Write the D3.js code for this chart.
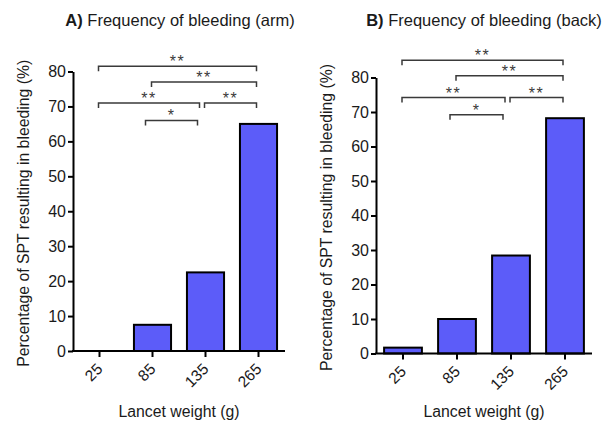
<!DOCTYPE html>
<html>
<head>
<meta charset="utf-8">
<script src="https://cdn.jsdelivr.net/npm/d3@7"></script>
<style>
  html, body { margin: 0; padding: 0; background: #fff; }
  svg { display: block; font-family: "Liberation Sans", Arial, Helvetica, sans-serif; }
</style>
</head>
<body>
<svg id="chart" width="608" height="423"></svg>
<script>
// Lancet weights (g) on the x axis
const lancetWeights = ["25", "85", "135", "265"];

// Percentage of skin prick tests that bled, per site
const armBleeding = [0, 7.5, 22.5, 65];
const backBleeding = [1.7, 10, 28.4, 68.2];

const yTicks = [0, 10, 20, 30, 40, 50, 60, 70, 80];

// Significance brackets: [from category, to category, height in %, label]
const armBrackets = [
  ["25", "265", 81.5, "**"],
  ["85", "265", 77, "**"],
  ["25", "135", 71, "**"],
  ["135", "265", 71, "**"],
  ["85", "135", 66, "*"]
];
const backBrackets = [
  ["25", "265", 85, "**"],
  ["85", "265", 80.5, "**"],
  ["25", "135", 74.2, "**"],
  ["135", "265", 74.2, "**"],
  ["85", "135", 69.2, "*"]
];

const svg = d3.select("#chart");
const BAR_FILL = "#5c5cf9";
const INK = "#1a1a1a";
const BRACKET_INK = "#3a3a3a";

function drawPanel(opts) {
  const { letter, title, values, brackets, left, right, top, bottom, titleX, yTitleX } = opts;
  const g = svg.append("g");

  const x = d3.scaleBand().domain(lancetWeights).range([left, right]).paddingInner(0.3).paddingOuter(0.15);
  const y = d3.scaleLinear().domain([0, 80]).range([bottom, top]);
  const cx = k => x(k) + x.bandwidth() / 2;

  // Bars
  g.selectAll("rect.bar")
    .data(values.map((v, i) => ({ k: lancetWeights[i], v })))
    .join("rect")
    .attr("class", "bar")
    .attr("x", d => x(d.k))
    .attr("width", x.bandwidth())
    .attr("y", d => y(d.v))
    .attr("height", d => y(0) - y(d.v))
    .attr("fill", BAR_FILL)
    .attr("stroke", d => d.v > 0 ? "#000" : "none")
    .attr("stroke-width", 2);

  // Y axis
  const yAxis = g.append("g")
    .attr("transform", `translate(${left},0)`)
    .call(d3.axisLeft(y).tickValues(yTicks).tickSize(5).tickSizeOuter(0).tickPadding(2));
  yAxis.select(".domain").attr("stroke", "#000").attr("stroke-width", 2);
  yAxis.selectAll(".tick line").attr("stroke", "#000").attr("stroke-width", 2);
  yAxis.selectAll(".tick text")
    .attr("font-size", 16).attr("fill", INK)
    .attr("font-family", "Liberation Sans, Arial, sans-serif");

  // X axis
  const xAxis = g.append("g")
    .attr("transform", `translate(0,${bottom})`)
    .call(d3.axisBottom(x).tickSize(6).tickSizeOuter(0));
  xAxis.select(".domain").attr("stroke", "#000").attr("stroke-width", 2)
    .attr("d", `M${left - 1},0H${right}`);
  xAxis.selectAll(".tick line").attr("stroke", "#000").attr("stroke-width", 2);
  xAxis.selectAll(".tick text")
    .attr("font-size", 15.5).attr("fill", INK)
    .attr("font-family", "Liberation Sans, Arial, sans-serif")
    .attr("text-anchor", "end")
    .attr("dy", null)
    .attr("y", null)
    .attr("transform", "translate(4,19) rotate(-45)");

  // Significance brackets
  const bg = g.append("g");
  brackets.forEach(([a, b, level, label]) => {
    const nudge = label === "*" ? -6 : 0;
    const sharesRight = brackets.some(o => o[0] === b && o[2] === level);
    const x1 = cx(a) - 1 + nudge;
    const x2 = cx(b) - (sharesRight ? 6 : 2) + nudge;
    const yy = y(level);
    bg.append("path")
      .attr("d", `M${x1},${yy + 5}V${yy}H${x2}V${yy + 5}`)
      .attr("fill", "none")
      .attr("stroke", BRACKET_INK)
      .attr("stroke-width", 1.5);
    bg.append("text")
      .attr("x", (x1 + x2) / 2)
      .attr("y", yy + 1)
      .attr("text-anchor", "middle")
      .attr("font-size", 16)
      .attr("letter-spacing", 1.5)
      .attr("fill", BRACKET_INK)
      .text(label);
  });

  // Panel title
  const t = g.append("text")
    .attr("x", titleX)
    .attr("y", 26)
    .attr("text-anchor", "middle")
    .attr("font-size", 16.5)
    .attr("fill", INK);
  t.append("tspan").attr("font-weight", "bold").text(letter + ")");
  t.append("tspan").text(" " + title);

  // Axis titles
  g.append("text")
    .attr("transform", `translate(${yTitleX},${(top + bottom) / 2 + 2}) rotate(-90)`)
    .attr("text-anchor", "middle")
    .attr("font-size", 15.8)
    .attr("fill", INK)
    .text("Percentage of SPT resulting in bleeding (%)");

  g.append("text")
    .attr("x", (left + right) / 2)
    .attr("y", 417)
    .attr("text-anchor", "middle")
    .attr("font-size", 15.8)
    .attr("fill", INK)
    .text("Lancet weight (g)");
}

drawPanel({
  letter: "A", title: "Frequency of bleeding (arm)",
  values: armBleeding, brackets: armBrackets,
  left: 73, right: 285, top: 71.5, bottom: 351,
  titleX: 180, yTitleX: 29
});

drawPanel({
  letter: "B", title: "Frequency of bleeding (back)",
  values: backBleeding, brackets: backBrackets,
  left: 376, right: 592, top: 77.5, bottom: 353.5,
  titleX: 484, yTitleX: 332
});
</script>
</body>
</html>
